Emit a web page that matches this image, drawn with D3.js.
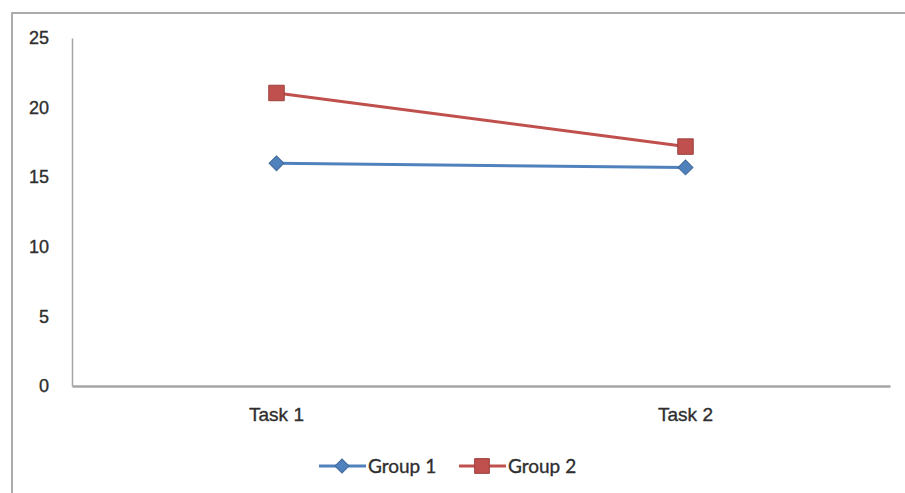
<!DOCTYPE html>
<html>
<head>
<meta charset="utf-8">
<script src="https://cdn.jsdelivr.net/npm/d3@7"></script>
<style>
  html, body { margin: 0; padding: 0; background: #fff; }
  svg { display: block; font-family: Lato, "Open Sans", sans-serif; }
  text { stroke: #2e2e2e; stroke-width: 0.35px; }
</style>
</head>
<body>
<svg id="chart" width="905" height="493"></svg>
<script>
// Chart data
const categories = ["Task 1", "Task 2"];
const seriesNames = ["Group 1", "Group 2"];
const group1 = [16.0, 15.7];
const group2 = [21.05, 17.2];
const yTicks = [0, 5, 10, 15, 20, 25];

(function () {
  const colors = ["#4F81BD", "#C0504D"];
  // diamond = square rotated 45 degrees
  const markerKinds = ["diamond", "square"];
  const series = [group1, group2].map((vals, i) => ({
    name: seriesNames[i],
    color: colors[i],
    kind: markerKinds[i],
    points: categories.map((c, j) => ({ cat: c, value: vals[j] }))
  }));

  const svg = d3.select("#chart");
  const plotLeft = 72, plotRight = 890, plotTop = 38, plotBottom = 386;
  const textColor = "#2e2e2e";

  // Outer chart frame (top and left edges visible)
  svg.append("path")
    .attr("d", "M12,493 L12,13 L905,13")
    .attr("fill", "none")
    .attr("stroke", "#ababab")
    .attr("stroke-width", 2);

  const x = d3.scaleBand().domain(categories).range([plotLeft, plotRight]);
  const y = d3.scaleLinear().domain([0, 25]).range([plotBottom, plotTop]);

  // Y axis: line plus labels, no gridlines
  const yAxis = svg.append("g")
    .attr("transform", `translate(${plotLeft},0)`)
    .call(d3.axisLeft(y).tickValues(yTicks).tickSize(0).tickPadding(23).tickFormat(d3.format("d")));
  yAxis.select(".domain").attr("stroke", "#a6a6a6").attr("stroke-width", 1.5);
  yAxis.selectAll("text").attr("font-size", 18).attr("fill", textColor);

  // X axis
  const xAxis = svg.append("g")
    .attr("transform", `translate(0,${plotBottom})`)
    .call(d3.axisBottom(x).tickSize(0).tickPadding(22));
  xAxis.select(".domain").attr("stroke", "#a6a6a6").attr("stroke-width", 2.5);
  xAxis.selectAll("text").attr("font-size", 19).attr("fill", textColor);

  const line = d3.line()
    .x(d => x(d.cat) + x.bandwidth() / 2)
    .y(d => y(d.value));

  function marker(sel, kind, color, scale) {
    const sym = d3.symbol().type(d3.symbolSquare).size(kind === "square" ? 240 * scale : 110 * scale);
    sel.attr("d", sym)
      .attr("fill", color)
      .attr("stroke", d3.color(color).darker(0.6))
      .attr("stroke-width", 1);
    return kind === "diamond" ? " rotate(45)" : "";
  }

  series.forEach(s => {
    svg.append("path")
      .datum(s.points)
      .attr("d", line)
      .attr("fill", "none")
      .attr("stroke", s.color)
      .attr("stroke-width", 3);
    const pts = svg.selectAll(null)
      .data(s.points)
      .enter().append("path");
    const rot = marker(pts, s.kind, s.color, 1);
    pts.attr("transform", d => `translate(${x(d.cat) + x.bandwidth() / 2},${y(d.value)})${rot}`);
  });

  // Legend
  const legendY = 466;
  const legendX = [319, 459];
  series.forEach((s, i) => {
    const g = svg.append("g").attr("transform", `translate(${legendX[i]},${legendY})`);
    g.append("line").attr("x1", 0).attr("x2", 47).attr("y1", 0).attr("y2", 0)
      .attr("stroke", s.color).attr("stroke-width", 3);
    const m = g.append("path");
    const rot = marker(m, s.kind, s.color, 0.9);
    m.attr("transform", `translate(23,0)${rot}`);
    g.append("text").attr("x", 49).attr("y", 0).attr("dy", "0.35em")
      .attr("font-size", 19).attr("fill", textColor).text(s.name);
  });
})();
</script>
</body>
</html>
